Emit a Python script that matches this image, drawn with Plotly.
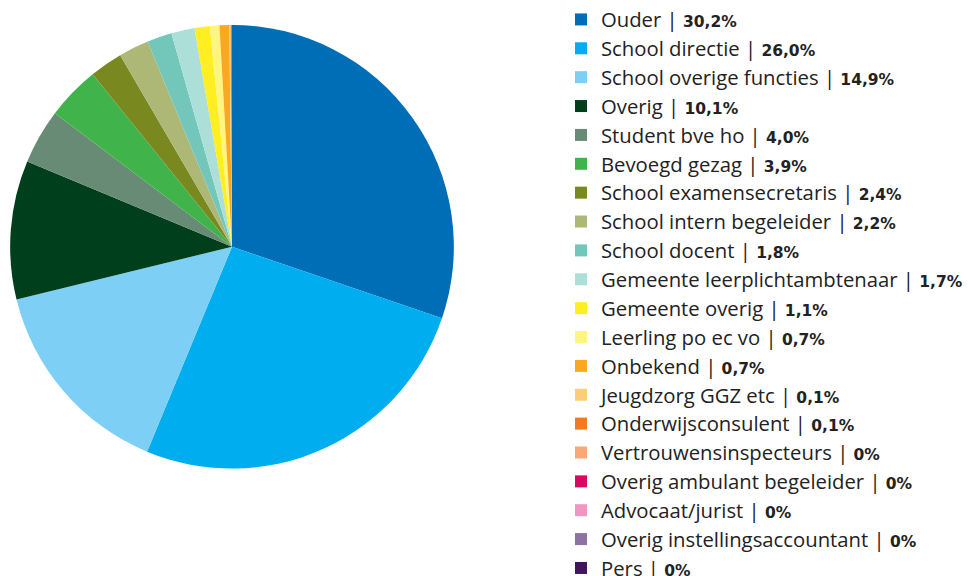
import plotly.graph_objects as go

categories = [
    "Ouder", "School directie", "School overige functies", "Overig",
    "Student bve ho", "Bevoegd gezag", "School examensecretaris",
    "School intern begeleider", "School docent", "Gemeente leerplichtambtenaar",
    "Gemeente overig", "Leerling po ec vo", "Onbekend", "Jeugdzorg GGZ etc",
    "Onderwijsconsulent", "Vertrouwensinspecteurs", "Overig ambulant begeleider",
    "Advocaat/jurist", "Overig instellingsaccountant", "Pers",
]
values = [30.2, 26.0, 14.9, 10.1, 4.0, 3.9, 2.4, 2.2, 1.8, 1.7,
          1.1, 0.7, 0.7, 0.1, 0.1, 0, 0, 0, 0, 0]
colors = [
    "#006EB7", "#00AEEF", "#7DCFF5", "#003F1C", "#678B74", "#40B44A",
    "#7A891F", "#ADB877", "#73C7BA", "#ADDFD9", "#FFEE22", "#FFF57F",
    "#F9A81F", "#FCCD78", "#F47920", "#F9A977", "#DA0863", "#EF97C0",
    "#8D72A4", "#42155F",
]


def fmt(v):
    return "0%" if v == 0 else f"{v:.1f}".replace(".", ",") + "%"


labels = [
    f"<span style='font-size:20.3px'>{c} | </span>"
    f"<b><span style='font-family:DejaVu Sans;font-size:15.5px'>{fmt(v)}</span></b>"
    for c, v in zip(categories, values)
]

fig = go.Figure(go.Pie(
    labels=labels,
    values=values,
    marker=dict(colors=colors, line=dict(width=0)),
    sort=False,
    direction="clockwise",
    rotation=0,
    textinfo="none",
    domain=dict(x=[9 / 968, 455 / 968], y=[1 - 468 / 576, 1 - 22 / 576]),
    hoverinfo="label+value",
))

fig.update_layout(
    width=968, height=576,
    margin=dict(l=0, r=0, t=0, b=0),
    paper_bgcolor="white",
    plot_bgcolor="white",
    font=dict(family="Open Sans", color="#222222", size=20),
    legend=dict(
        x=561 / 968, xanchor="left",
        y=1 + 3 / 576, yanchor="top",
        font=dict(family="Open Sans", size=19.9, color="#222222"),
        bgcolor="rgba(0,0,0,0)",
        borderwidth=0,
        tracegroupgap=0,
        maxheight=700,
    ),
    showlegend=True,
)

fig.write_html("out.html", config={"displayModeBar": False},
               post_script="document.body.style.margin='0';")
